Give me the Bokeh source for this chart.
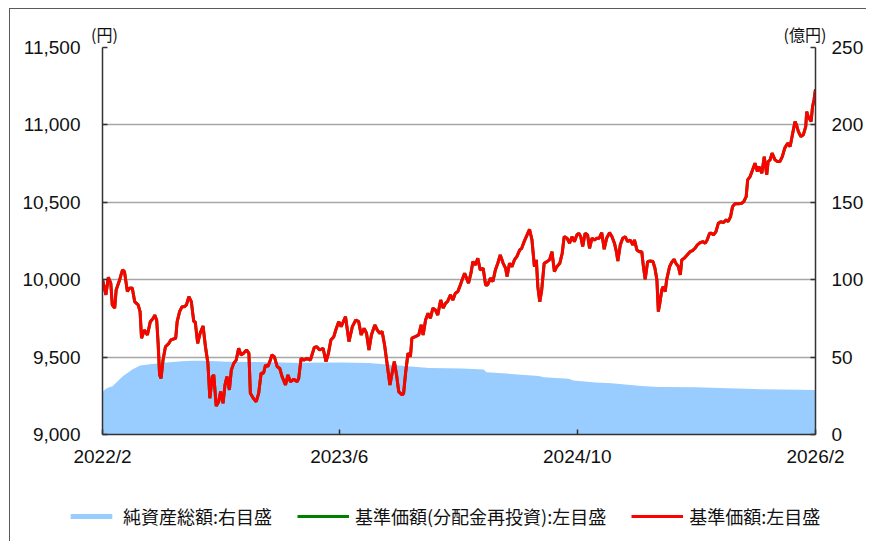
import pandas as pd
from bokeh.plotting import figure
from bokeh.layouts import column
from bokeh.models import (Range1d, LinearAxis, DatetimeAxis, FixedTicker, NumeralTickFormatter,
                          CustomJSTickFormatter, Legend, LegendItem)
from bokeh.embed import file_html
from bokeh.resources import INLINE

# ---------------- data ----------------
x_tick_dates = ["2022-02-01", "2023-06-01", "2024-10-01", "2026-02-01"]
left_ticks = [9000, 9500, 10000, 10500, 11000, 11500]
right_ticks = [0, 50, 100, 150, 200, 250]

nav_dates = [
    "2022-02-01", "2022-02-08", "2022-02-13", "2022-02-18", "2022-02-21", "2022-02-26", "2022-03-01", "2022-03-07", "2022-03-14", "2022-03-18",
    "2022-03-24", "2022-03-28", "2022-04-03", "2022-04-08", "2022-04-15", "2022-04-19", "2022-04-22", "2022-04-28", "2022-05-04", "2022-05-10",
    "2022-05-16", "2022-05-19", "2022-05-23", "2022-05-26", "2022-05-29", "2022-06-01", "2022-06-05", "2022-06-10", "2022-06-17", "2022-06-21",
    "2022-07-01", "2022-07-04", "2022-07-09", "2022-07-14", "2022-07-19", "2022-07-23", "2022-07-28", "2022-08-02", "2022-08-07", "2022-08-10",
    "2022-08-15", "2022-08-20", "2022-08-26", "2022-08-31", "2022-09-05", "2022-09-09", "2022-09-14", "2022-09-17", "2022-09-22", "2022-09-27",
    "2022-10-01", "2022-10-06", "2022-10-10", "2022-10-14", "2022-10-19", "2022-10-23", "2022-10-28", "2022-11-02", "2022-11-07", "2022-11-12",
    "2022-11-17", "2022-11-23", "2022-11-28", "2022-12-01", "2022-12-07", "2022-12-13", "2022-12-18", "2022-12-23", "2022-12-28", "2023-01-01",
    "2023-01-06", "2023-01-11", "2023-01-14", "2023-01-19", "2023-01-25", "2023-01-30", "2023-02-04", "2023-02-11", "2023-02-16", "2023-02-21",
    "2023-02-28", "2023-03-07", "2023-03-10", "2023-03-15", "2023-03-20", "2023-03-27", "2023-04-03", "2023-04-11", "2023-04-16", "2023-04-22",
    "2023-04-29", "2023-05-05", "2023-05-10", "2023-05-15", "2023-05-21", "2023-05-25", "2023-05-31", "2023-06-05", "2023-06-14", "2023-06-21",
    "2023-06-28", "2023-07-05", "2023-07-11", "2023-07-16", "2023-07-22", "2023-07-27", "2023-08-01", "2023-08-06", "2023-08-13", "2023-08-18",
    "2023-08-23", "2023-08-28", "2023-09-02", "2023-09-07", "2023-09-13", "2023-09-18", "2023-09-22", "2023-09-27", "2023-10-01", "2023-10-08",
    "2023-10-11", "2023-10-15", "2023-10-20", "2023-10-25", "2023-10-28", "2023-11-04", "2023-11-11", "2023-11-16", "2023-11-20", "2023-11-25",
    "2023-11-30", "2023-12-05", "2023-12-10", "2023-12-15", "2023-12-20", "2023-12-26", "2023-12-31", "2024-01-05", "2024-01-09", "2024-01-15",
    "2024-01-20", "2024-01-25", "2024-01-30", "2024-02-03", "2024-02-08", "2024-02-13", "2024-02-17", "2024-02-21", "2024-02-26", "2024-03-01",
    "2024-03-06", "2024-03-11", "2024-03-16", "2024-03-22", "2024-03-27", "2024-03-31", "2024-04-06", "2024-04-11", "2024-04-16", "2024-04-21",
    "2024-04-26", "2024-05-02", "2024-05-07", "2024-05-10", "2024-05-15", "2024-05-20", "2024-05-25", "2024-05-30", "2024-06-05", "2024-06-09",
    "2024-06-14", "2024-06-20", "2024-06-25", "2024-06-30", "2024-07-05", "2024-07-09", "2024-07-12", "2024-07-16", "2024-07-20", "2024-07-25",
    "2024-07-31", "2024-08-05", "2024-08-10", "2024-08-15", "2024-08-20", "2024-08-26", "2024-08-31", "2024-09-04", "2024-09-10", "2024-09-15",
    "2024-09-20", "2024-09-25", "2024-09-30", "2024-10-04", "2024-10-08", "2024-10-12", "2024-10-17", "2024-10-22", "2024-10-26", "2024-10-31",
    "2024-11-05", "2024-11-10", "2024-11-15", "2024-11-20", "2024-11-25", "2024-11-30", "2024-12-06", "2024-12-11", "2024-12-16", "2024-12-20",
    "2024-12-23", "2024-12-28", "2025-01-02", "2025-01-07", "2025-01-12", "2025-01-17", "2025-01-23", "2025-01-26", "2025-01-31", "2025-02-05",
    "2025-02-10", "2025-02-13", "2025-02-17", "2025-02-22", "2025-02-27", "2025-03-05", "2025-03-09", "2025-03-13", "2025-03-16", "2025-03-19",
    "2025-03-23", "2025-03-26", "2025-03-30", "2025-04-02", "2025-04-08", "2025-04-12", "2025-04-17", "2025-04-21", "2025-04-26", "2025-04-30",
    "2025-05-03", "2025-05-08", "2025-05-14", "2025-05-20", "2025-05-25", "2025-05-30", "2025-06-04", "2025-06-10", "2025-06-15", "2025-06-20",
    "2025-06-24", "2025-06-29", "2025-07-03", "2025-07-07", "2025-07-12", "2025-07-17", "2025-07-22", "2025-07-27", "2025-08-02", "2025-08-06",
    "2025-08-11", "2025-08-15", "2025-08-20", "2025-08-27", "2025-09-03", "2025-09-07", "2025-09-12", "2025-09-15", "2025-09-20", "2025-09-25",
    "2025-09-30", "2025-10-05", "2025-10-08", "2025-10-14", "2025-10-19", "2025-10-24", "2025-10-27", "2025-10-31", "2025-11-04", "2025-11-10",
    "2025-11-15", "2025-11-20", "2025-11-25", "2025-11-30", "2025-12-06", "2025-12-11", "2025-12-15", "2025-12-21", "2025-12-24", "2025-12-28",
    "2026-01-02", "2026-01-07", "2026-01-12", "2026-01-14", "2026-01-17", "2026-01-23", "2026-01-26", "2026-01-29", "2026-02-01",
]

# 基準価額 (円)
nav_values = [
    10000, 9902, 10016, 9977, 9837, 9816, 9934, 9988, 10063, 10052,
    9923, 9945, 9947, 9858, 9837, 9794, 9622, 9675, 9643, 9729,
    9751, 9772, 9740, 9589, 9385, 9363, 9481, 9567, 9589, 9611,
    9622, 9729, 9794, 9826, 9826, 9837, 9891, 9858, 9729, 9729,
    9589, 9654, 9701, 9567, 9460, 9234, 9374, 9385, 9184, 9212,
    9277, 9202, 9320, 9374, 9288, 9417, 9460, 9481, 9557, 9514,
    9525, 9546, 9525, 9266, 9234, 9212, 9266, 9396, 9396, 9449,
    9439, 9481, 9514, 9503, 9438, 9428, 9374, 9320, 9385, 9341,
    9357, 9341, 9363, 9492, 9481, 9492, 9481, 9563, 9567, 9546,
    9557, 9471, 9525, 9611, 9632, 9675, 9729, 9697, 9761, 9600,
    9697, 9740, 9729, 9643, 9686, 9654, 9546, 9643, 9708, 9675,
    9654, 9665, 9578, 9460, 9320, 9406, 9471, 9374, 9277, 9255,
    9266, 9396, 9525, 9503, 9622, 9632, 9643, 9708, 9643, 9740,
    9783, 9751, 9816, 9805, 9772, 9869, 9816, 9848, 9858, 9902,
    9869, 9913, 9923, 9955, 9999, 10042, 10010, 9977, 10042, 10117,
    10095, 10139, 10063, 10074, 9966, 9966, 10010, 9988, 10063, 10106,
    10160, 10106, 10074, 10020, 10106, 10084, 10128, 10149, 10192, 10203,
    10246, 10289, 10326, 10257, 10084, 10128, 9955, 9858, 9934, 10106,
    10117, 10128, 10181, 10052, 10084, 10106, 10171, 10278, 10268, 10236,
    10278, 10246, 10289, 10300, 10278, 10214, 10300, 10289, 10203, 10268,
    10257, 10268, 10268, 10304, 10197, 10268, 10304, 10278, 10236, 10181,
    10121, 10225, 10268, 10278, 10246, 10257, 10225, 10257, 10192, 10181,
    10181, 10095, 10003, 10117, 10121, 10117, 10074, 9999, 9794, 9848,
    9934, 9955, 9923, 9999, 10084, 10110, 10132, 10106, 10084, 10031,
    10128, 10139, 10160, 10181, 10188, 10203, 10225, 10240, 10246, 10236,
    10257, 10300, 10300, 10289, 10311, 10365, 10375, 10369, 10386, 10375,
    10408, 10472, 10490, 10490, 10494, 10505, 10537, 10645, 10666, 10709,
    10752, 10699, 10731, 10688, 10795, 10677, 10763, 10774, 10817, 10774,
    10763, 10763, 10795, 10850, 10882, 10860, 10925, 11022, 11000, 10957,
    10925, 10936, 10989, 11086, 11054, 11022, 11119, 11162, 11230,
]

# 基準価額（分配金再投資） — identical to 基準価額 (no distributions)
nav_reinvest_values = list(nav_values)

# 純資産総額 (億円)
aum_dates = [
    "2022-02-01", "2022-02-08", "2022-02-15", "2022-02-21", "2022-03-01", "2022-03-14", "2022-04-03", "2022-04-19",
    "2022-05-14", "2022-05-29", "2022-06-14", "2022-07-14", "2022-08-04", "2022-08-30", "2022-10-14", "2022-12-13",
    "2023-02-28", "2023-06-01", "2023-08-01", "2023-10-01", "2023-12-02", "2024-02-07", "2024-03-23", "2024-03-29",
    "2024-05-24", "2024-07-14", "2024-07-24", "2024-09-13", "2024-09-23", "2024-11-07", "2024-12-10", "2025-02-09",
    "2025-03-16", "2025-05-31", "2025-08-06", "2025-10-13", "2026-02-01",
]
aum_values = [
    27.5, 29.5, 30.5, 31.0, 33.5, 37.5, 42.0, 44.5,
    45.5, 46.0, 46.5, 47.3, 47.7, 47.7, 47.0, 46.9,
    46.4, 46.5, 46.2, 44.5, 43.0, 42.6, 42.0, 40.2,
    39.0, 37.8, 37.0, 36.0, 34.9, 33.6, 33.1, 31.3,
    30.7, 30.5, 29.9, 29.2, 28.8,
]

legend_labels = ["純資産総額:右目盛", "基準価額(分配金再投資):左目盛", "基準価額:左目盛"]
unit_labels = ["(円)", "(億円)"]

# ---------------- styles ----------------
NUM_FONT = "Liberation Sans"
JP_FONT = "Noto Sans CJK JP"
TXT = "#111111"
AX_COLOR = "#333333"
BLUE = "#99CCFF"
GREEN = "#008000"
RED = "#FF0000"
W = 856
FRAME_W, FRAME_H = 714, 387
BORDER_L, BORDER_T = 92, 38
P_H = 470
Q_H = 62


def ms(d):
    return pd.Timestamp(d).timestamp() * 1000.0


nav_x = pd.to_datetime(nav_dates)
aum_x = pd.to_datetime(aum_dates)
x_start = ms(x_tick_dates[0])
x_end = ms(x_tick_dates[-1])
ms_per_px = (x_end - x_start) / FRAME_W

# ---------------- main chart ----------------
p = figure(width=W, height=P_H, x_axis_type="datetime",
           x_range=Range1d(x_start, x_end),
           y_range=Range1d(left_ticks[0], left_ticks[-1]),
           output_backend="svg", toolbar_location=None,
           min_border_left=BORDER_L, min_border_right=W - BORDER_L - FRAME_W,
           min_border_top=BORDER_T, min_border_bottom=P_H - BORDER_T - FRAME_H)
p.extra_y_ranges = {"aum": Range1d(right_ticks[0], right_ticks[-1])}
p.outline_line_color = None
p.background_fill_color = "white"
p.border_fill_color = "white"

blue = p.varea(x=aum_x, y1=0, y2=aum_values, y_range_name="aum",
               fill_color=BLUE, fill_alpha=1.0)
green = p.line(x=nav_x, y=nav_reinvest_values, line_color=GREEN, line_width=3)
red = p.line(x=nav_x, y=nav_values, line_color=RED, line_width=3)

p.xgrid.visible = False
p.ygrid.grid_line_color = "#A6A6A6"
p.ygrid.grid_line_width = 1.5

xa = p.xaxis[0]
xa.ticker = FixedTicker(ticks=[ms(d) for d in x_tick_dates])
xa.formatter = CustomJSTickFormatter(code="""
const d = new Date(tick);
return d.getUTCFullYear() + "/" + (d.getUTCMonth() + 1);
""")
ya = p.yaxis[0]
ya.ticker = FixedTicker(ticks=left_ticks)
ya.formatter = NumeralTickFormatter(format="0,0")

ra = LinearAxis(y_range_name="aum", ticker=FixedTicker(ticks=right_ticks))
p.add_layout(ra, "right")

for ax in (xa, ya, ra):
    ax.axis_line_color = AX_COLOR
    ax.axis_line_width = 1.5
    ax.major_tick_line_color = AX_COLOR
    ax.major_tick_line_width = 1.5
    ax.major_tick_in = 5
    ax.major_tick_out = 0
    ax.minor_tick_line_color = None
    ax.major_label_text_font = NUM_FONT
    ax.major_label_text_font_size = "19px"
    ax.major_label_text_color = TXT
xa.major_label_standoff = 11
ya.major_label_standoff = 22
ra.major_label_standoff = 16

# unit captions: an invisible axis along the top edge carries them
unit_pos = [x_start + 2 * ms_per_px, x_end - 10.5 * ms_per_px]
ua = DatetimeAxis(ticker=FixedTicker(ticks=unit_pos),
                  formatter=CustomJSTickFormatter(
                      args=dict(names=unit_labels),
                      code="return names[index];"))
ua.axis_line_color = None
ua.major_tick_line_color = None
ua.minor_tick_line_color = None
ua.major_tick_in = 0
ua.major_tick_out = 0
ua.major_label_standoff = 2
ua.major_label_text_font = JP_FONT
ua.major_label_text_font_size = "16px"
ua.major_label_text_color = TXT
p.add_layout(ua, "above")

# ---------------- legend strip ----------------
q = figure(width=W, height=Q_H, x_range=Range1d(0, 1), y_range=Range1d(0, 1),
           output_backend="svg", toolbar_location=None,
           x_axis_location=None, y_axis_location=None,
           min_border_left=0, min_border_right=0, min_border_top=0, min_border_bottom=0)
if "frame_align" in q.properties():
    q.frame_align = False
    p.frame_align = False
q.outline_line_color = None
q.grid.visible = False
q.background_fill_color = "white"
q.border_fill_color = "white"
# same series, drawn outside this strip's view: they only feed the legend swatches
lb = q.varea(x=aum_x, y1=0, y2=aum_values, fill_color=BLUE, fill_alpha=1.0)
lg = q.line(x=nav_x, y=nav_reinvest_values, line_color=GREEN, line_width=3)
lr = q.line(x=nav_x, y=nav_values, line_color=RED, line_width=3)

legend = Legend(items=[LegendItem(label=legend_labels[0], renderers=[lb]),
                       LegendItem(label=legend_labels[1], renderers=[lg]),
                       LegendItem(label=legend_labels[2], renderers=[lr])],
                orientation="horizontal", location=(55, 12),
                glyph_width=52, glyph_height=6, label_standoff=6, spacing=25,
                padding=0, margin=0, border_line_color=None, background_fill_alpha=0,
                label_text_font=JP_FONT, label_text_font_size="18px",
                label_text_color=TXT, label_height=20)
q.add_layout(legend, "center")

layout = column(p, q, spacing=0)
layout.styles = {"margin-left": "9px", "margin-top": "8px",
                 "border-left": "1.5px solid #5a5a5a", "border-top": "1.5px solid #5a5a5a"}
open("out.html", "w").write(file_html(layout, INLINE))
